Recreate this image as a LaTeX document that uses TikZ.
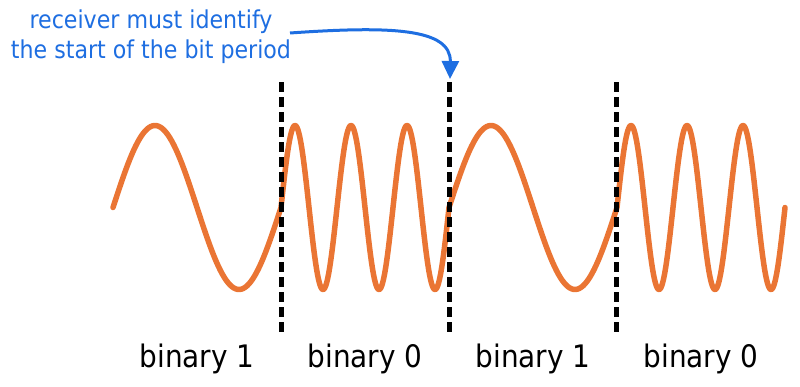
\documentclass[tikz,border=0pt]{standalone}
\usepackage{fontspec}
\setmainfont{DejaVu Sans Condensed}
\usetikzlibrary{arrows.meta}
\definecolor{wavecol}{RGB}{234,117,52}
\definecolor{notecol}{RGB}{30,110,225}
\begin{document}
\begin{tikzpicture}[x=1pt,y=-1pt,
  wavestyle/.style={draw=wavecol,line width=5.5pt,line join=round,line cap=round},
  divider/.style={draw=black,line width=5pt,dash pattern=on 10pt off 5pt},
  notetext/.style={text=notecol,font=\fontsize{24.6pt}{30pt}\selectfont,anchor=base,inner sep=0pt},
  bitlabel/.style={text=black,font=\fontsize{31pt}{36pt}\selectfont,anchor=base,inner sep=0pt},
  notearrow/.style={draw=notecol,line width=3pt,-{Triangle[width=17pt,length=18pt]}}]
\useasboundingbox (0,0) rectangle (800,386);
% wave
\draw[wavestyle]
  plot[domain=113:281,samples=90] (\x,{207.5-82*sin((\x-113)/168*360)})
  -- plot[domain=281:449,samples=220] (\x,{207.5-82*sin((\x-281)/168*1080)})
  -- plot[domain=449:617,samples=90] (\x,{207.5-82*sin((\x-449)/168*360)})
  -- plot[domain=617:785,samples=220] (\x,{207.5-82*sin((\x-617)/168*1080)});
% dividers
\coordinate (d1t) at (281,82); \coordinate (d1b) at (281,334);
\coordinate (d2t) at (449,82); \coordinate (d2b) at (449,334);
\coordinate (d3t) at (616,82); \coordinate (d3b) at (616,334);
\draw[divider] (d1t) -- (d1b);
\draw[divider] (d2t) -- (d2b);
\draw[divider] (d3t) -- (d3b);
% labels
\node[bitlabel] (b1) at (197,367) {binary 1};
\node[bitlabel] (b2) at (365,367) {binary 0};
\node[bitlabel] (b3) at (533,367) {binary 1};
\node[bitlabel] (b4) at (701,367) {binary 0};
% note
\node[notetext] (note1) at (151,28) {receiver must identify};
\node[notetext] (note2) at (151,58) {the start of the bit period};
\coordinate (astart) at (290,33);
\coordinate (atip) at (450,79);
\draw[notearrow] (astart) .. controls (390,26) and (451,28) .. (atip);
\end{tikzpicture}
\end{document}
